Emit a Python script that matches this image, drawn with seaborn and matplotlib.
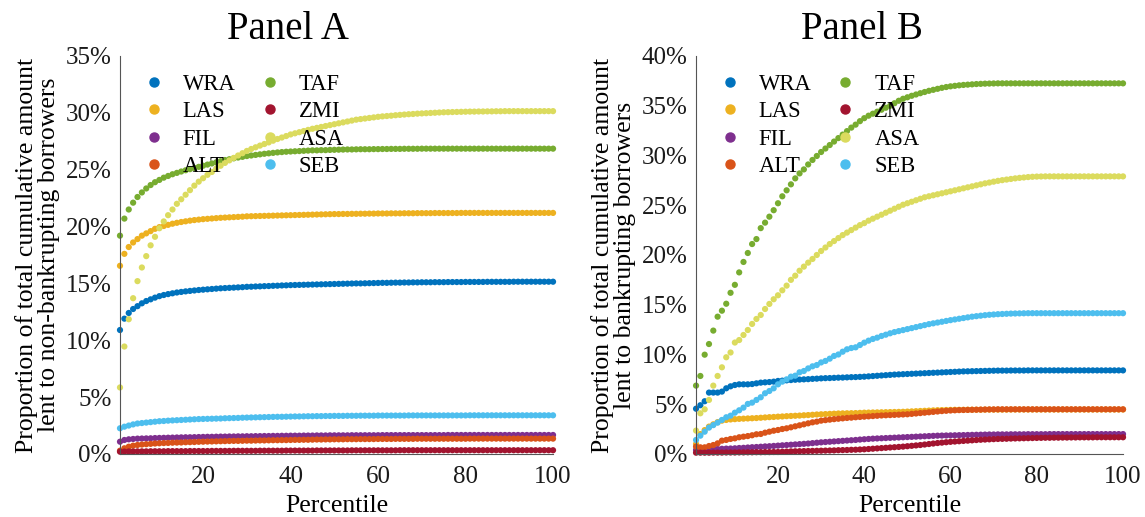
import matplotlib
matplotlib.use("Agg")
import pandas as pd
import seaborn as sns
from matplotlib import pyplot as plt
from matplotlib.lines import Line2D
from matplotlib.ticker import PercentFormatter

# lenders, in legend order (first column, then second column)
lenders = ["WRA", "LAS", "FIL", "ALT", "TAF", "ZMI", "ASA", "SEB"]
colours = ["#0072BD", "#EDB120", "#7E2F8E", "#D95319",
           "#77AC30", "#A2142F", "#DBDB5E", "#4DBEEE"]
percentile = list(range(1, 101))
x_ticks = [20, 40, 60, 80, 100]

# Panel A: share of cumulative amount lent to non-bankrupting borrowers (%)
a_wra = [10.9, 11.9, 12.4, 12.75, 13.0, 13.25, 13.45, 13.6, 13.75, 13.88,
         13.98, 14.06, 14.13, 14.2, 14.25, 14.3, 14.34, 14.38, 14.42, 14.45,
         14.48, 14.51, 14.54, 14.57, 14.59, 14.61, 14.63, 14.65, 14.67, 14.7,
         14.71, 14.73, 14.74, 14.76, 14.77, 14.79, 14.8, 14.82, 14.83, 14.85,
         14.86, 14.87, 14.88, 14.89, 14.9, 14.91, 14.92, 14.93, 14.94, 14.95,
         14.96, 14.97, 14.98, 14.99, 15.0, 15.0, 15.01, 15.02, 15.03, 15.04,
         15.05, 15.05, 15.06, 15.07, 15.07, 15.08, 15.08, 15.09, 15.09, 15.1,
         15.1, 15.1, 15.11, 15.11, 15.11, 15.12, 15.12, 15.12, 15.12, 15.13,
         15.13, 15.13, 15.13, 15.13, 15.14, 15.14, 15.14, 15.14, 15.14, 15.14,
         15.15, 15.15, 15.15, 15.15, 15.15, 15.15, 15.15, 15.15, 15.15, 15.15]
a_las = [16.55, 17.6, 18.2, 18.6, 18.9, 19.2, 19.4, 19.6, 19.8, 19.95,
         20.05, 20.15, 20.25, 20.33, 20.4, 20.46, 20.52, 20.57, 20.61, 20.65,
         20.68, 20.71, 20.74, 20.77, 20.79, 20.81, 20.83, 20.85, 20.87, 20.9,
         20.91, 20.92, 20.93, 20.94, 20.95, 20.96, 20.97, 20.98, 20.99, 21.0,
         21.01, 21.02, 21.03, 21.04, 21.05, 21.06, 21.07, 21.08, 21.09, 21.1,
         21.1, 21.11, 21.11, 21.12, 21.12, 21.13, 21.13, 21.14, 21.14, 21.15,
         21.15, 21.15, 21.16, 21.16, 21.16, 21.17, 21.17, 21.17, 21.18, 21.18,
         21.18, 21.18, 21.19, 21.19, 21.19, 21.19, 21.19, 21.19, 21.2, 21.2,
         21.2, 21.2, 21.2, 21.2, 21.2, 21.2, 21.2, 21.2, 21.2, 21.2,
         21.2, 21.2, 21.2, 21.2, 21.2, 21.2, 21.2, 21.2, 21.2, 21.2]
a_fil = [1.08, 1.23, 1.29, 1.32, 1.35, 1.36, 1.37, 1.38, 1.4, 1.41,
         1.42, 1.43, 1.44, 1.45, 1.46, 1.47, 1.47, 1.48, 1.49, 1.5,
         1.51, 1.51, 1.52, 1.53, 1.53, 1.54, 1.54, 1.55, 1.55, 1.56,
         1.56, 1.57, 1.57, 1.58, 1.58, 1.59, 1.59, 1.6, 1.6, 1.61,
         1.61, 1.61, 1.62, 1.62, 1.62, 1.63, 1.63, 1.63, 1.64, 1.64,
         1.64, 1.64, 1.64, 1.65, 1.65, 1.65, 1.65, 1.65, 1.65, 1.65,
         1.66, 1.66, 1.66, 1.66, 1.66, 1.66, 1.66, 1.66, 1.66, 1.66,
         1.66, 1.66, 1.66, 1.66, 1.66, 1.67, 1.67, 1.67, 1.67, 1.67,
         1.67, 1.67, 1.67, 1.67, 1.67, 1.67, 1.67, 1.67, 1.67, 1.67,
         1.67, 1.67, 1.67, 1.67, 1.67, 1.67, 1.67, 1.67, 1.67, 1.67]
a_alt = [0.29, 0.5, 0.64, 0.73, 0.79, 0.83, 0.86, 0.89, 0.92, 0.94,
         0.96, 0.97, 0.99, 1.0, 1.01, 1.03, 1.04, 1.05, 1.07, 1.08,
         1.09, 1.1, 1.11, 1.12, 1.13, 1.14, 1.15, 1.15, 1.16, 1.17,
         1.17, 1.18, 1.19, 1.19, 1.2, 1.21, 1.21, 1.22, 1.22, 1.23,
         1.24, 1.24, 1.25, 1.25, 1.26, 1.27, 1.27, 1.28, 1.28, 1.29,
         1.29, 1.29, 1.3, 1.3, 1.3, 1.31, 1.31, 1.31, 1.31, 1.32,
         1.32, 1.32, 1.32, 1.33, 1.33, 1.33, 1.33, 1.33, 1.34, 1.34,
         1.34, 1.34, 1.34, 1.34, 1.34, 1.34, 1.34, 1.34, 1.34, 1.34,
         1.35, 1.35, 1.35, 1.35, 1.35, 1.35, 1.35, 1.35, 1.35, 1.35,
         1.35, 1.35, 1.35, 1.35, 1.35, 1.35, 1.35, 1.35, 1.35, 1.35]
a_taf = [19.2, 20.7, 21.5, 22.1, 22.6, 23.0, 23.35, 23.65, 23.9, 24.1,
         24.3, 24.45, 24.6, 24.72, 24.84, 24.95, 25.05, 25.15, 25.25, 25.35,
         25.45, 25.55, 25.65, 25.75, 25.85, 25.92, 26.0, 26.07, 26.13, 26.2,
         26.25, 26.3, 26.35, 26.4, 26.44, 26.48, 26.52, 26.55, 26.58, 26.6,
         26.62, 26.64, 26.66, 26.68, 26.7, 26.7, 26.72, 26.72, 26.74, 26.75,
         26.76, 26.77, 26.78, 26.78, 26.79, 26.8, 26.8, 26.8, 26.81, 26.81,
         26.82, 26.82, 26.83, 26.83, 26.83, 26.84, 26.84, 26.84, 26.84, 26.85,
         26.85, 26.85, 26.85, 26.85, 26.85, 26.85, 26.85, 26.85, 26.85, 26.85,
         26.85, 26.85, 26.85, 26.85, 26.85, 26.85, 26.85, 26.85, 26.85, 26.85,
         26.85, 26.85, 26.85, 26.85, 26.85, 26.85, 26.85, 26.85, 26.85, 26.85]
a_zmi = [0.2, 0.21, 0.22, 0.22, 0.23, 0.23, 0.23, 0.24, 0.24, 0.24,
         0.24, 0.25, 0.25, 0.25, 0.25, 0.25, 0.26, 0.26, 0.26, 0.26,
         0.26, 0.27, 0.27, 0.27, 0.27, 0.27, 0.28, 0.28, 0.28, 0.28,
         0.28, 0.28, 0.29, 0.29, 0.29, 0.29, 0.29, 0.29, 0.3, 0.3,
         0.3, 0.3, 0.3, 0.3, 0.3, 0.31, 0.31, 0.31, 0.31, 0.31,
         0.31, 0.31, 0.31, 0.32, 0.32, 0.32, 0.32, 0.32, 0.32, 0.32,
         0.32, 0.32, 0.32, 0.32, 0.33, 0.33, 0.33, 0.33, 0.33, 0.33,
         0.33, 0.33, 0.33, 0.33, 0.33, 0.33, 0.33, 0.33, 0.33, 0.33,
         0.33, 0.33, 0.33, 0.33, 0.33, 0.33, 0.33, 0.33, 0.33, 0.33,
         0.33, 0.33, 0.33, 0.33, 0.33, 0.33, 0.33, 0.33, 0.33, 0.33]
a_asa = [5.85, 9.45, 11.85, 13.7, 15.2, 16.4, 17.4, 18.35, 19.1, 19.85,
         20.45, 21.0, 21.5, 22.0, 22.4, 22.8, 23.2, 23.6, 23.95, 24.25,
         24.55, 24.8, 25.1, 25.35, 25.6, 25.82, 26.04, 26.25, 26.45, 26.65,
         26.82, 26.97, 27.12, 27.26, 27.4, 27.55, 27.7, 27.83, 27.96, 28.1,
         28.2, 28.3, 28.4, 28.5, 28.6, 28.68, 28.76, 28.84, 28.92, 29.0,
         29.08, 29.16, 29.24, 29.32, 29.4, 29.45, 29.5, 29.55, 29.6, 29.65,
         29.69, 29.72, 29.75, 29.79, 29.82, 29.85, 29.88, 29.9, 29.93, 29.95,
         29.97, 29.99, 30.01, 30.03, 30.05, 30.06, 30.07, 30.08, 30.09, 30.1,
         30.11, 30.11, 30.12, 30.12, 30.13, 30.13, 30.14, 30.14, 30.15, 30.15,
         30.15, 30.15, 30.15, 30.15, 30.15, 30.15, 30.15, 30.15, 30.15, 30.15]
a_seb = [2.26, 2.4, 2.5, 2.6, 2.68, 2.72, 2.76, 2.8, 2.84, 2.88,
         2.9, 2.93, 2.95, 2.97, 2.99, 3.01, 3.03, 3.05, 3.07, 3.08,
         3.09, 3.1, 3.11, 3.12, 3.14, 3.15, 3.16, 3.17, 3.19, 3.2,
         3.21, 3.22, 3.23, 3.24, 3.25, 3.26, 3.27, 3.27, 3.28, 3.29,
         3.3, 3.3, 3.31, 3.32, 3.32, 3.33, 3.33, 3.34, 3.34, 3.35,
         3.35, 3.35, 3.36, 3.36, 3.36, 3.37, 3.37, 3.37, 3.37, 3.38,
         3.38, 3.38, 3.38, 3.38, 3.38, 3.38, 3.39, 3.39, 3.39, 3.39,
         3.39, 3.39, 3.39, 3.39, 3.39, 3.39, 3.39, 3.39, 3.39, 3.39,
         3.4, 3.4, 3.4, 3.4, 3.4, 3.4, 3.4, 3.4, 3.4, 3.4,
         3.4, 3.4, 3.4, 3.4, 3.4, 3.4, 3.4, 3.4, 3.4, 3.4]

# Panel B: share of cumulative amount lent to bankrupting borrowers (%)
b_wra = [4.55, 4.9, 5.3, 6.17, 6.17, 6.17, 6.27, 6.6, 6.8, 6.93,
         7.0, 7.0, 7.0, 7.03, 7.1, 7.17, 7.2, 7.23, 7.27, 7.34,
         7.37, 7.4, 7.43, 7.46, 7.48, 7.5, 7.52, 7.55, 7.57, 7.6,
         7.62, 7.63, 7.65, 7.67, 7.68, 7.7, 7.72, 7.73, 7.75, 7.77,
         7.8, 7.83, 7.86, 7.89, 7.92, 7.95, 7.98, 8.0, 8.02, 8.04,
         8.06, 8.08, 8.1, 8.12, 8.14, 8.16, 8.18, 8.2, 8.22, 8.24,
         8.26, 8.28, 8.3, 8.31, 8.32, 8.33, 8.34, 8.35, 8.36, 8.37,
         8.38, 8.38, 8.38, 8.39, 8.39, 8.39, 8.39, 8.4, 8.4, 8.4,
         8.4, 8.4, 8.4, 8.4, 8.4, 8.4, 8.4, 8.4, 8.4, 8.4,
         8.4, 8.4, 8.4, 8.4, 8.4, 8.4, 8.4, 8.4, 8.4, 8.4]
b_las = [1.0, 2.0, 2.4, 2.75, 2.98, 3.2, 3.35, 3.42, 3.47, 3.5,
         3.53, 3.55, 3.57, 3.59, 3.61, 3.64, 3.67, 3.7, 3.72, 3.75,
         3.77, 3.8, 3.82, 3.84, 3.86, 3.89, 3.91, 3.94, 3.97, 3.99,
         4.01, 4.03, 4.05, 4.07, 4.08, 4.09, 4.1, 4.11, 4.13, 4.15,
         4.16, 4.17, 4.18, 4.19, 4.2, 4.21, 4.22, 4.23, 4.24, 4.26,
         4.28, 4.3, 4.32, 4.34, 4.36, 4.38, 4.4, 4.41, 4.42, 4.43,
         4.44, 4.44, 4.44, 4.45, 4.45, 4.45, 4.45, 4.46, 4.46, 4.46,
         4.46, 4.46, 4.46, 4.47, 4.47, 4.47, 4.47, 4.47, 4.47, 4.47,
         4.47, 4.47, 4.47, 4.47, 4.47, 4.47, 4.47, 4.47, 4.47, 4.47,
         4.47, 4.47, 4.47, 4.47, 4.47, 4.47, 4.47, 4.47, 4.47, 4.47]
b_fil = [0.4, 0.42, 0.44, 0.46, 0.48, 0.5, 0.52, 0.54, 0.55, 0.57,
         0.6, 0.62, 0.65, 0.68, 0.7, 0.73, 0.76, 0.78, 0.81, 0.84,
         0.87, 0.9, 0.93, 0.96, 0.99, 1.02, 1.05, 1.09, 1.13, 1.17,
         1.2, 1.23, 1.26, 1.29, 1.32, 1.35, 1.38, 1.41, 1.45, 1.48,
         1.51, 1.54, 1.56, 1.58, 1.6, 1.62, 1.64, 1.66, 1.68, 1.7,
         1.72, 1.74, 1.76, 1.78, 1.8, 1.82, 1.84, 1.85, 1.86, 1.87,
         1.88, 1.89, 1.9, 1.91, 1.92, 1.93, 1.94, 1.95, 1.96, 1.96,
         1.97, 1.97, 1.97, 1.98, 1.98, 1.98, 1.98, 1.99, 1.99, 1.99,
         1.99, 1.99, 2.0, 2.0, 2.0, 2.0, 2.0, 2.0, 2.0, 2.0,
         2.0, 2.0, 2.0, 2.0, 2.0, 2.0, 2.0, 2.0, 2.0, 2.0]
b_alt = [0.74, 0.67, 0.67, 0.8, 0.9, 1.07, 1.34, 1.41, 1.51, 1.57,
         1.68, 1.74, 1.8, 1.88, 1.98, 2.01, 2.14, 2.24, 2.34, 2.41,
         2.51, 2.58, 2.68, 2.78, 2.88, 2.98, 3.08, 3.18, 3.25, 3.35,
         3.4, 3.45, 3.5, 3.54, 3.58, 3.62, 3.65, 3.69, 3.72, 3.75,
         3.78, 3.81, 3.84, 3.87, 3.89, 3.91, 3.93, 3.95, 3.97, 3.99,
         4.03, 4.07, 4.11, 4.15, 4.19, 4.23, 4.27, 4.31, 4.34, 4.37,
         4.39, 4.41, 4.42, 4.43, 4.44, 4.45, 4.46, 4.47, 4.48, 4.48,
         4.49, 4.49, 4.49, 4.49, 4.49, 4.49, 4.49, 4.49, 4.49, 4.49,
         4.49, 4.49, 4.49, 4.49, 4.49, 4.49, 4.49, 4.49, 4.49, 4.49,
         4.49, 4.49, 4.49, 4.49, 4.49, 4.49, 4.49, 4.49, 4.49, 4.49]
b_taf = [6.87, 7.84, 9.98, 11.05, 12.4, 13.8, 14.4, 15.1, 16.2, 17.0,
         18.25, 19.3, 20.2, 21.1, 21.6, 22.7, 23.25, 23.85, 24.5, 25.2,
         25.9, 26.5, 27.1, 27.7, 28.2, 28.6, 29.1, 29.55, 29.95, 30.35,
         30.7, 31.05, 31.4, 31.75, 32.1, 32.45, 32.8, 33.1, 33.45, 33.75,
         34.0, 34.2, 34.4, 34.6, 34.8, 35.0, 35.25, 35.5, 35.7, 35.85,
         36.0, 36.13, 36.26, 36.38, 36.5, 36.6, 36.7, 36.8, 36.88, 36.95,
         37.0, 37.05, 37.09, 37.12, 37.15, 37.18, 37.2, 37.22, 37.23, 37.24,
         37.25, 37.25, 37.25, 37.25, 37.25, 37.25, 37.25, 37.25, 37.25, 37.25,
         37.25, 37.25, 37.25, 37.25, 37.25, 37.25, 37.25, 37.25, 37.25, 37.25,
         37.25, 37.25, 37.25, 37.25, 37.25, 37.25, 37.25, 37.25, 37.25, 37.25]
b_zmi = [0.13, 0.13, 0.13, 0.13, 0.14, 0.14, 0.14, 0.15, 0.15, 0.15,
         0.16, 0.16, 0.17, 0.17, 0.18, 0.18, 0.19, 0.19, 0.2, 0.2,
         0.22, 0.24, 0.26, 0.27, 0.28, 0.29, 0.3, 0.31, 0.32, 0.33,
         0.34, 0.35, 0.36, 0.38, 0.39, 0.4, 0.42, 0.43, 0.45, 0.47,
         0.5, 0.53, 0.56, 0.59, 0.62, 0.65, 0.68, 0.71, 0.74, 0.78,
         0.82, 0.86, 0.9, 0.95, 1.0, 1.05, 1.1, 1.14, 1.18, 1.22,
         1.25, 1.28, 1.31, 1.34, 1.37, 1.4, 1.43, 1.45, 1.47, 1.49,
         1.51, 1.52, 1.53, 1.55, 1.56, 1.57, 1.58, 1.59, 1.6, 1.61,
         1.62, 1.63, 1.63, 1.64, 1.64, 1.65, 1.65, 1.66, 1.66, 1.67,
         1.67, 1.67, 1.67, 1.68, 1.68, 1.68, 1.68, 1.68, 1.68, 1.68]
b_asa = [2.35, 4.09, 4.49, 5.43, 6.87, 7.84, 8.71, 9.72, 10.2, 11.2,
         11.45, 11.96, 12.46, 13.07, 13.57, 13.97, 14.57, 15.08, 15.55, 15.95,
         16.45, 16.92, 17.5, 17.92, 18.42, 18.83, 19.23, 19.6, 20.0, 20.4,
         20.75, 21.1, 21.4, 21.7, 22.0, 22.25, 22.5, 22.75, 23.0, 23.2,
         23.45, 23.65, 23.85, 24.05, 24.25, 24.45, 24.65, 24.85, 25.05, 25.2,
         25.35, 25.5, 25.65, 25.8, 25.9, 26.0, 26.1, 26.2, 26.3, 26.4,
         26.5, 26.6, 26.7, 26.8, 26.9, 27.0, 27.1, 27.2, 27.28, 27.37,
         27.45, 27.52, 27.58, 27.64, 27.7, 27.75, 27.79, 27.83, 27.86, 27.88,
         27.89, 27.9, 27.9, 27.9, 27.9, 27.9, 27.9, 27.9, 27.9, 27.9,
         27.9, 27.9, 27.9, 27.9, 27.9, 27.9, 27.9, 27.9, 27.9, 27.9]
b_seb = [1.41, 1.84, 2.24, 2.65, 2.9, 3.15, 3.42, 3.69, 3.85, 4.15,
         4.39, 4.66, 5.03, 5.16, 5.43, 5.7, 6.1, 6.33, 6.6, 7.0,
         7.27, 7.5, 7.77, 7.87, 8.21, 8.34, 8.6, 8.81, 8.94, 9.2,
         9.35, 9.58, 9.85, 10.0, 10.28, 10.52, 10.65, 10.72, 10.95, 11.19,
         11.39, 11.56, 11.69, 11.86, 11.99, 12.13, 12.25, 12.35, 12.45, 12.55,
         12.65, 12.75, 12.85, 12.95, 13.05, 13.13, 13.21, 13.29, 13.37, 13.45,
         13.52, 13.59, 13.66, 13.73, 13.8, 13.85, 13.9, 13.95, 13.99, 14.02,
         14.05, 14.07, 14.09, 14.11, 14.12, 14.13, 14.14, 14.15, 14.15, 14.15,
         14.15, 14.15, 14.15, 14.15, 14.15, 14.15, 14.15, 14.15, 14.15, 14.15,
         14.15, 14.15, 14.15, 14.15, 14.15, 14.15, 14.15, 14.15, 14.15, 14.15]

panel_a = [a_wra, a_las, a_fil, a_alt, a_taf, a_zmi, a_asa, a_seb]
panel_b = [b_wra, b_las, b_fil, b_alt, b_taf, b_zmi, b_asa, b_seb]


def long_frame(series):
    # one row per dot, series kept in legend order so later ones draw on top
    parts = []
    for name, values in zip(lenders, series):
        assert len(values) == len(percentile), name
        parts.append(pd.DataFrame({"Percentile": percentile,
                                   "Share": values, "Lender": name}))
    return pd.concat(parts, ignore_index=True)


sns.set_theme(style="white")
plt.rcParams["font.family"] = ["Liberation Serif", "DejaVu Serif"]
plt.rcParams["text.color"] = "black"

fig = plt.figure(figsize=(11.45, 5.17), dpi=100)
ax_a = fig.add_axes([0.1048, 0.1219, 0.3782, 0.7698])
ax_b = fig.add_axes([0.6079, 0.1219, 0.3729, 0.7698])

setups = [
    (ax_a, panel_a, 35, "Panel A",
     "Proportion of total cumulative amount\nlent to non-bankrupting borrowers"),
    (ax_b, panel_b, 40, "Panel B",
     "Proportion of total cumulative amount\nlent to bankrupting borrowers"),
]

for ax, series, top, title, ylabel in setups:
    sns.scatterplot(data=long_frame(series), x="Percentile", y="Share",
                    hue="Lender", hue_order=lenders, palette=colours,
                    s=20, linewidth=0, legend=False, clip_on=False, ax=ax)

    ax.set_xlim(1, 100)
    ax.set_ylim(0, top)
    ax.set_xticks(x_ticks)
    ax.set_yticks(list(range(0, top + 1, 5)))
    ax.yaxis.set_major_formatter(PercentFormatter(decimals=0))

    ax.set_xlabel("Percentile", fontsize=18.5, color="black", labelpad=5)
    ax.set_ylabel(ylabel, fontsize=18.5, color="black", labelpad=4,
                  linespacing=1.0)
    ax.set_title(title, fontsize=28, x=0.388, pad=12, color="black")

    sns.despine(ax=ax)
    for side in ["left", "bottom"]:
        ax.spines[side].set_color("#555555")
        ax.spines[side].set_linewidth(0.8)
    ax.tick_params(direction="in", length=4, width=0.8, color="#555555",
                   labelsize=18, labelcolor="#1a1a1a")
    ax.tick_params(axis="x", pad=9)
    ax.tick_params(axis="y", pad=6)

    handles = [Line2D([], [], marker="o", linestyle="", color=c,
                      markersize=6.5) for c in colours]
    ax.legend(handles, lenders, ncol=2, frameon=False, fontsize=16.3,
              loc="upper left", bbox_to_anchor=(0.052, 0.955),
              borderaxespad=0, borderpad=0, handlelength=1.0,
              handletextpad=0.78, columnspacing=1.0, labelspacing=0.28)

fig.savefig("out.png", dpi=100)
